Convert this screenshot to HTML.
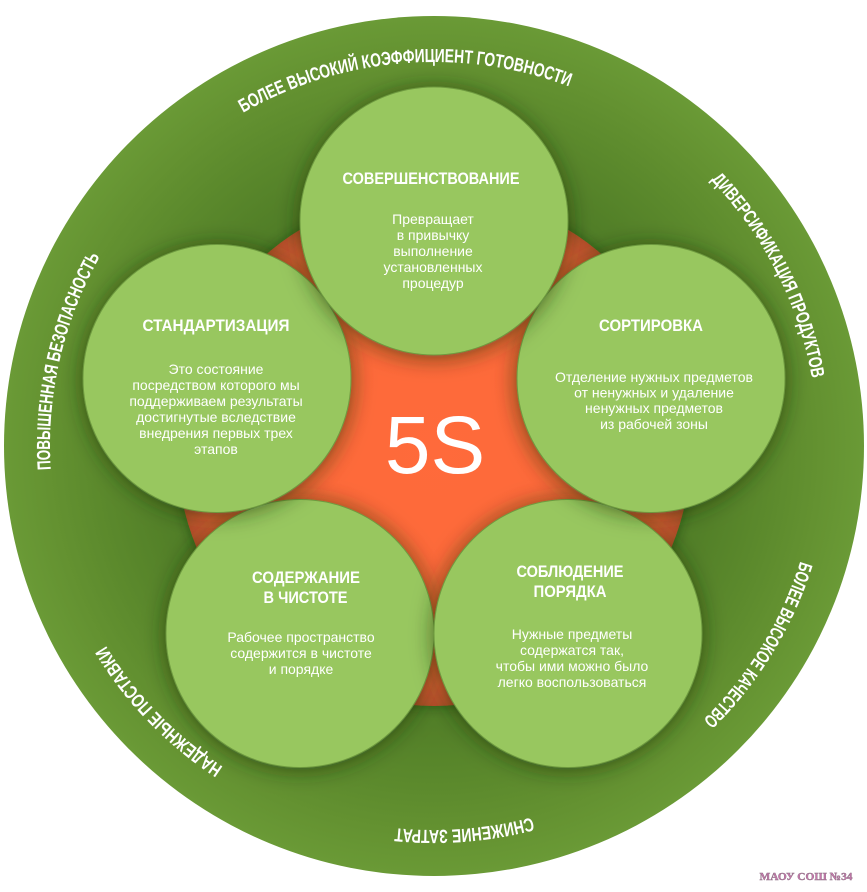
<!DOCTYPE html>
<html>
<head>
<meta charset="utf-8">
<style>
  html,body{margin:0;padding:0;background:#fff;}
  body{width:867px;height:892px;overflow:hidden;}
  svg{display:block;}
  .ring{font-family:"Liberation Sans Narrow","Liberation Sans","DejaVu Sans Condensed",sans-serif;font-weight:bold;font-size:19px;fill:#fff;}
  .ttl{font-family:"Liberation Sans Narrow","Liberation Sans",sans-serif;font-weight:bold;font-size:17px;fill:#fff;}
  .body{font-family:"Liberation Sans",sans-serif;font-size:14px;fill:#fff;}
</style>
</head>
<body>
<svg width="867" height="892" viewBox="0 0 867 892" xmlns="http://www.w3.org/2000/svg">
  <defs>
    <radialGradient id="gOuter" gradientUnits="userSpaceOnUse" cx="434" cy="446" r="430">
      <stop offset="0" stop-color="#4a7723"/>
      <stop offset="0.6" stop-color="#4f7c26"/>
      <stop offset="0.78" stop-color="#5b892c"/>
      <stop offset="0.9" stop-color="#649231"/>
      <stop offset="1" stop-color="#6a9a36"/>
    </radialGradient>
    <radialGradient id="gOrange" gradientUnits="userSpaceOnUse" cx="434" cy="449" r="257">
      <stop offset="0" stop-color="#ff6b3a"/>
      <stop offset="0.75" stop-color="#fc6839"/>
      <stop offset="0.92" stop-color="#e45d34"/>
      <stop offset="1" stop-color="#b8502b"/>
    </radialGradient>
    <filter id="sh" x="-30%" y="-30%" width="160%" height="160%">
      <feDropShadow dx="0" dy="2" stdDeviation="11" flood-color="#1a3008" flood-opacity="0.65"/>
    </filter>
    <filter id="sh2" x="-20%" y="-20%" width="140%" height="140%">
      <feDropShadow dx="0" dy="0" stdDeviation="6" flood-color="#1c3309" flood-opacity="0.45"/>
    </filter>
    <path id="rp" d="M 818,446 A 384 384 0 1 1 50,446 A 384 384 0 1 1 818,446"/>
  </defs>

  <circle cx="434" cy="446" r="430" fill="url(#gOuter)"/>

  <circle cx="434" cy="449" r="257" fill="url(#gOrange)" filter="url(#sh2)"/>

  <text x="435" y="473" text-anchor="middle" font-family="'Liberation Sans',sans-serif" font-size="82" fill="#fff">5S</text>

  <g fill="#98c75e" stroke="#6e9a3f" stroke-width="1">
    <circle cx="300" cy="633.5" r="134" filter="url(#sh)"/>
    <circle cx="568" cy="633.5" r="134" filter="url(#sh)"/>
    <circle cx="217" cy="378.5" r="134" filter="url(#sh)"/>
    <circle cx="651" cy="378.5" r="134" filter="url(#sh)"/>
    <circle cx="434" cy="221" r="134" filter="url(#sh)"/>
  </g>

  <text class="ring"><textPath href="#rp" startOffset="73.72%" text-anchor="middle" textLength="338" lengthAdjust="spacingAndGlyphs">БОЛЕЕ ВЫСОКИЙ КОЭФФИЦИЕНТ ГОТОВНОСТИ</textPath></text>
  <text class="ring"><textPath href="#rp" startOffset="92.5%" text-anchor="middle" textLength="226" lengthAdjust="spacingAndGlyphs">ДИВЕРСИФИКАЦИЯ ПРОДУКТОВ</textPath></text>
  <text class="ring"><textPath href="#rp" startOffset="8.75%" text-anchor="middle" textLength="188" lengthAdjust="spacingAndGlyphs">БОЛЕЕ ВЫСОКОЕ КАЧЕСТВО</textPath></text>
  <text class="ring"><textPath href="#rp" startOffset="23.75%" text-anchor="middle" textLength="138" lengthAdjust="spacingAndGlyphs">СНИЖЕНИЕ ЗАТРАТ</textPath></text>
  <text class="ring"><textPath href="#rp" startOffset="37.78%" text-anchor="middle" textLength="170" lengthAdjust="spacingAndGlyphs">НАДЕЖНЫЕ ПОСТАВКИ</textPath></text>
  <text class="ring"><textPath href="#rp" startOffset="53.61%" text-anchor="middle" textLength="222" lengthAdjust="spacingAndGlyphs">ПОВЫШЕННАЯ БЕЗОПАСНОСТЬ</textPath></text>

  <text class="ttl" x="431" y="184" text-anchor="middle" textLength="177" lengthAdjust="spacingAndGlyphs">СОВЕРШЕНСТВОВАНИЕ</text>
  <text class="ttl" x="216" y="331" text-anchor="middle" textLength="147" lengthAdjust="spacingAndGlyphs">СТАНДАРТИЗАЦИЯ</text>
  <text class="ttl" x="651" y="331" text-anchor="middle" textLength="104" lengthAdjust="spacingAndGlyphs">СОРТИРОВКА</text>
  <text class="ttl" x="306" y="583" text-anchor="middle" textLength="108" lengthAdjust="spacingAndGlyphs">СОДЕРЖАНИЕ</text>
  <text class="ttl" x="305.5" y="603" text-anchor="middle" textLength="84" lengthAdjust="spacingAndGlyphs">В ЧИСТОТЕ</text>
  <text class="ttl" x="570" y="577" text-anchor="middle" textLength="107" lengthAdjust="spacingAndGlyphs">СОБЛЮДЕНИЕ</text>
  <text class="ttl" x="570" y="597" text-anchor="middle" textLength="73" lengthAdjust="spacingAndGlyphs">ПОРЯДКА</text>

  <g class="body" text-anchor="middle">
    <text x="433" y="224">Превращает</text>
    <text x="433" y="240">в привычку</text>
    <text x="433" y="256">выполнение</text>
    <text x="433" y="272">установленных</text>
    <text x="433" y="288">процедур</text>

    <text x="216" y="374">Это состояние</text>
    <text x="216" y="390">посредством которого мы</text>
    <text x="216" y="406">поддерживаем результаты</text>
    <text x="216" y="422">достигнутые вследствие</text>
    <text x="216" y="438">внедрения первых трех</text>
    <text x="216" y="454">этапов</text>

    <text x="654" y="382">Отделение нужных предметов</text>
    <text x="654" y="397.5">от ненужных и удаление</text>
    <text x="654" y="413">ненужных предметов</text>
    <text x="654" y="429">из рабочей зоны</text>

    <text x="301" y="642">Рабочее пространство</text>
    <text x="301" y="658">содержится в чистоте</text>
    <text x="301" y="674">и порядке</text>

    <text x="572" y="639">Нужные предметы</text>
    <text x="572" y="655">содержатся так,</text>
    <text x="572" y="671">чтобы ими можно было</text>
    <text x="572" y="687">легко воспользоваться</text>
  </g>

  <text x="806" y="880" text-anchor="middle" font-family="'Liberation Serif',serif" font-weight="bold" font-size="11" fill="#c779ad" stroke="#8a6a80" stroke-width="0.4" textLength="93" lengthAdjust="spacingAndGlyphs">МАОУ СОШ №34</text>
</svg>
</body>
</html>
